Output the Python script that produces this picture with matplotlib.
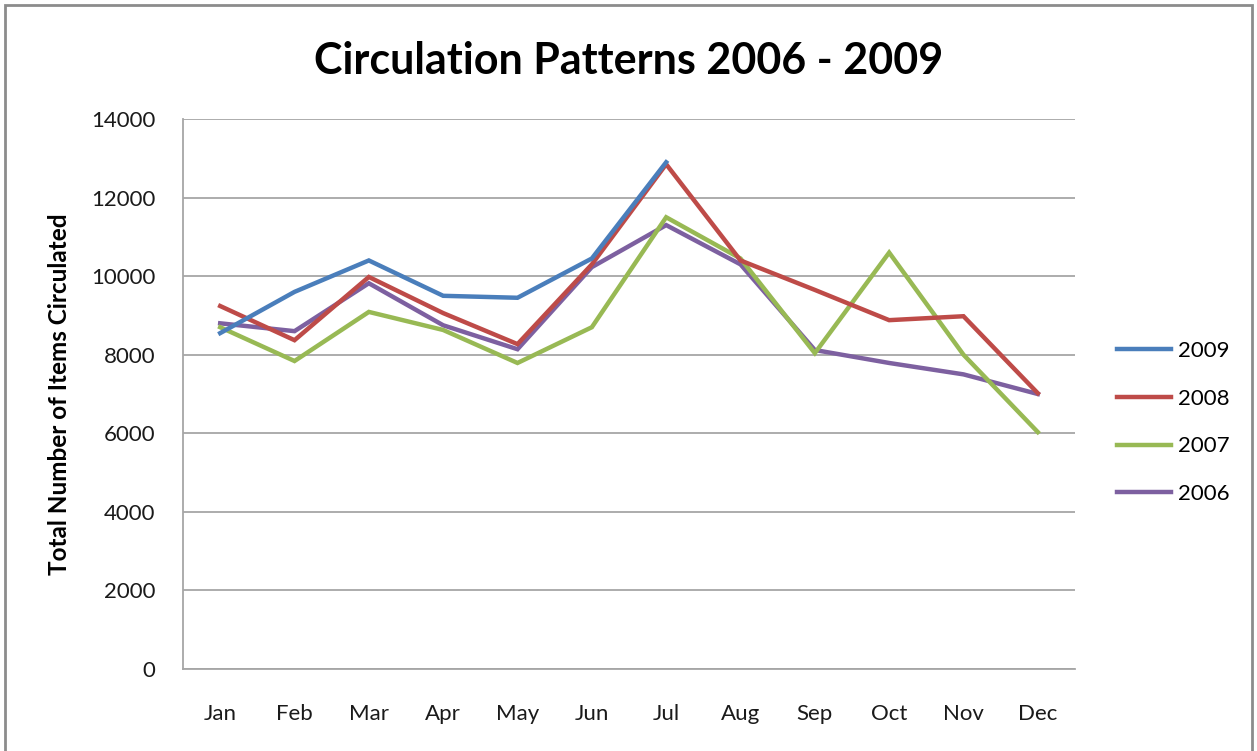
import matplotlib.pyplot as plt
from matplotlib.patches import Rectangle

plt.rcParams["font.family"] = ["Lato", "DejaVu Sans"]

MONTHS = ["Jan", "Feb", "Mar", "Apr", "May", "Jun", "Jul", "Aug", "Sep", "Oct", "Nov", "Dec"]
Y2009 = [8550, 9600, 10400, 9500, 9450, 10450, 12900]
Y2008 = [9240, 8370, 9980, 9060, 8270, 10300, 12850, 10400, 9650, 8880, 8980, 7020]
Y2007 = [8700, 7840, 9090, 8630, 7790, 8700, 11500, 10450, 8040, 10600, 8000, 6030]
Y2006 = [8800, 8600, 9820, 8750, 8140, 10230, 11300, 10300, 8120, 7790, 7500, 7000]

SERIES = [
    ("2009", Y2009, "#4a7ebb"),
    ("2008", Y2008, "#be4b48"),
    ("2007", Y2007, "#98b954"),
    ("2006", Y2006, "#7d60a0"),
]

fig = plt.figure(figsize=(12.57, 7.51), dpi=100)
ax = fig.add_axes([0.1456, 0.1092, 0.7096, 0.7323])

# outer chart border
fig.patches.append(Rectangle((5 / 1257, -0.01), 1247 / 1257, 1.0 - 5 / 751 + 0.01,
                             transform=fig.transFigure, fill=False,
                             edgecolor="#8c8c8c", linewidth=2))

handles = []
for label, vals, color in reversed(SERIES):
    (ln,) = ax.plot(range(len(vals)), vals, color=color, linewidth=3.2,
                    solid_joinstyle="miter", label=label)
    handles.append(ln)

ax.set_xlim(-0.5, 11.5)
ax.set_ylim(0, 14000)
ax.set_yticks(range(0, 14001, 2000))
ax.set_xticks(range(12))
ax.set_xticklabels(MONTHS)
ax.tick_params(length=0, labelsize=16, colors="#1a1a1a")
ax.tick_params(axis="x", pad=25)
ax.tick_params(axis="y", pad=20)
ax.grid(axis="y", color="#a6a6a6", linewidth=1.3)
ax.set_axisbelow(True)
for side in ["top", "right"]:
    ax.spines[side].set_visible(False)
for side in ["left", "bottom"]:
    ax.spines[side].set_color("#a6a6a6")
    ax.spines[side].set_linewidth(1.3)

ax.set_ylabel("Total Number of Items Circulated", fontsize=17.5, fontweight="bold", labelpad=14)
fig.suptitle("Circulation Patterns 2006 - 2009", fontsize=31, fontweight="bold", y=0.945)

ax.legend(handles[::-1], [s[0] for s in SERIES], loc="center left",
          bbox_to_anchor=(1.025, 0.448), frameon=False, fontsize=16,
          handlelength=2.4, labelspacing=1.25, handletextpad=0.35)

fig.savefig("out.png", dpi=100)
